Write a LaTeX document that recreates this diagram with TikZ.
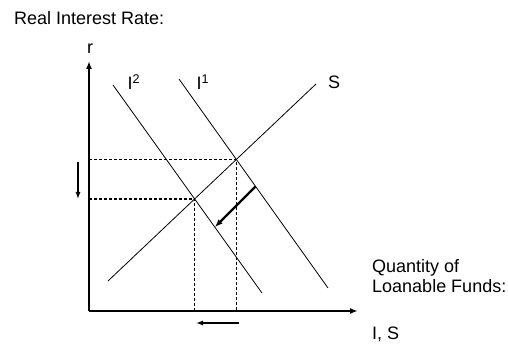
\documentclass[tikz,border=0pt]{standalone}
\usepackage{fontspec}
\setmainfont{Liberation Sans}
\usetikzlibrary{arrows.meta,intersections}
\tikzset{
  lbl/.style={font=\fontsize{18}{19.5}\selectfont, inner sep=0pt},
  axisline/.style={line width=1.6pt, -{Latex[length=8pt,width=6pt]}},
  curve/.style={line width=0.8pt},
  guide/.style={line width=1.5pt, dash pattern=on 3pt off 2pt},
  shiftarrow/.style={line width=1.3pt, -{Latex[length=7pt,width=5pt]}},
  bigshift/.style={line width=2.2pt, -{Latex[length=8pt,width=6pt]}}
}
\begin{document}
\begin{tikzpicture}[x=1pt,y=-1pt]
\useasboundingbox (0,0) rectangle (508,347);
% axes
\coordinate (O) at (89,311);
\coordinate (ytop) at (89,61);
\coordinate (xend) at (358,311);
\draw[axisline] (O) -- (ytop);
\draw[axisline] (O) -- (xend);
% curves
\coordinate (s1) at (108,281);
\coordinate (s2) at (316,84);
\coordinate (a1) at (179,79);
\coordinate (a2) at (328,288);
\coordinate (b1) at (113,85);
\coordinate (b2) at (262,293);
\draw[curve, name path=S] (s1) -- (s2);
\draw[curve, name path=I1] (a1) -- (a2);
\draw[curve, name path=I2] (b1) -- (b2);
\path[name intersections={of=S and I1, by=E1}];
\path[name intersections={of=S and I2, by=E2}];
% guides
\draw[guide] (O |- E1) -- (E1) -- (E1 |- O);
\draw[guide] (O |- E2) -- (E2) -- (E2 |- O);
% shift arrows
\coordinate (v1) at (78,162);
\coordinate (v2) at (78,199);
\draw[shiftarrow] (v1) -- (v2);
\coordinate (h1) at (239,323);
\coordinate (h2) at (196,323);
\draw[shiftarrow] (h1) -- (h2);
\path[name path=diag] (300,142) -- (180,262);
\path[name intersections={of=diag and I1, by=d1}];
\path[name intersections={of=diag and I2, by=d2}];
\draw[bigshift] (d1) -- (d2);
% labels
\node[lbl, anchor=base west] (title) at (14,25) {Real Interest Rate:};
\node[lbl] (r) at (90,49) {r};
\node[lbl] (lI2) at (134,82) {I\textsuperscript{2}};
\node[lbl] (lI1) at (203,82) {I\textsuperscript{1}};
\node[lbl] (lS) at (334,82) {S};
\node[lbl, anchor=base west, align=left] (qlf) at (372,292) {Quantity of\\Loanable Funds:};
\node[lbl, anchor=base west] (IS) at (372,339) {I, S};
\end{tikzpicture}
\end{document}
